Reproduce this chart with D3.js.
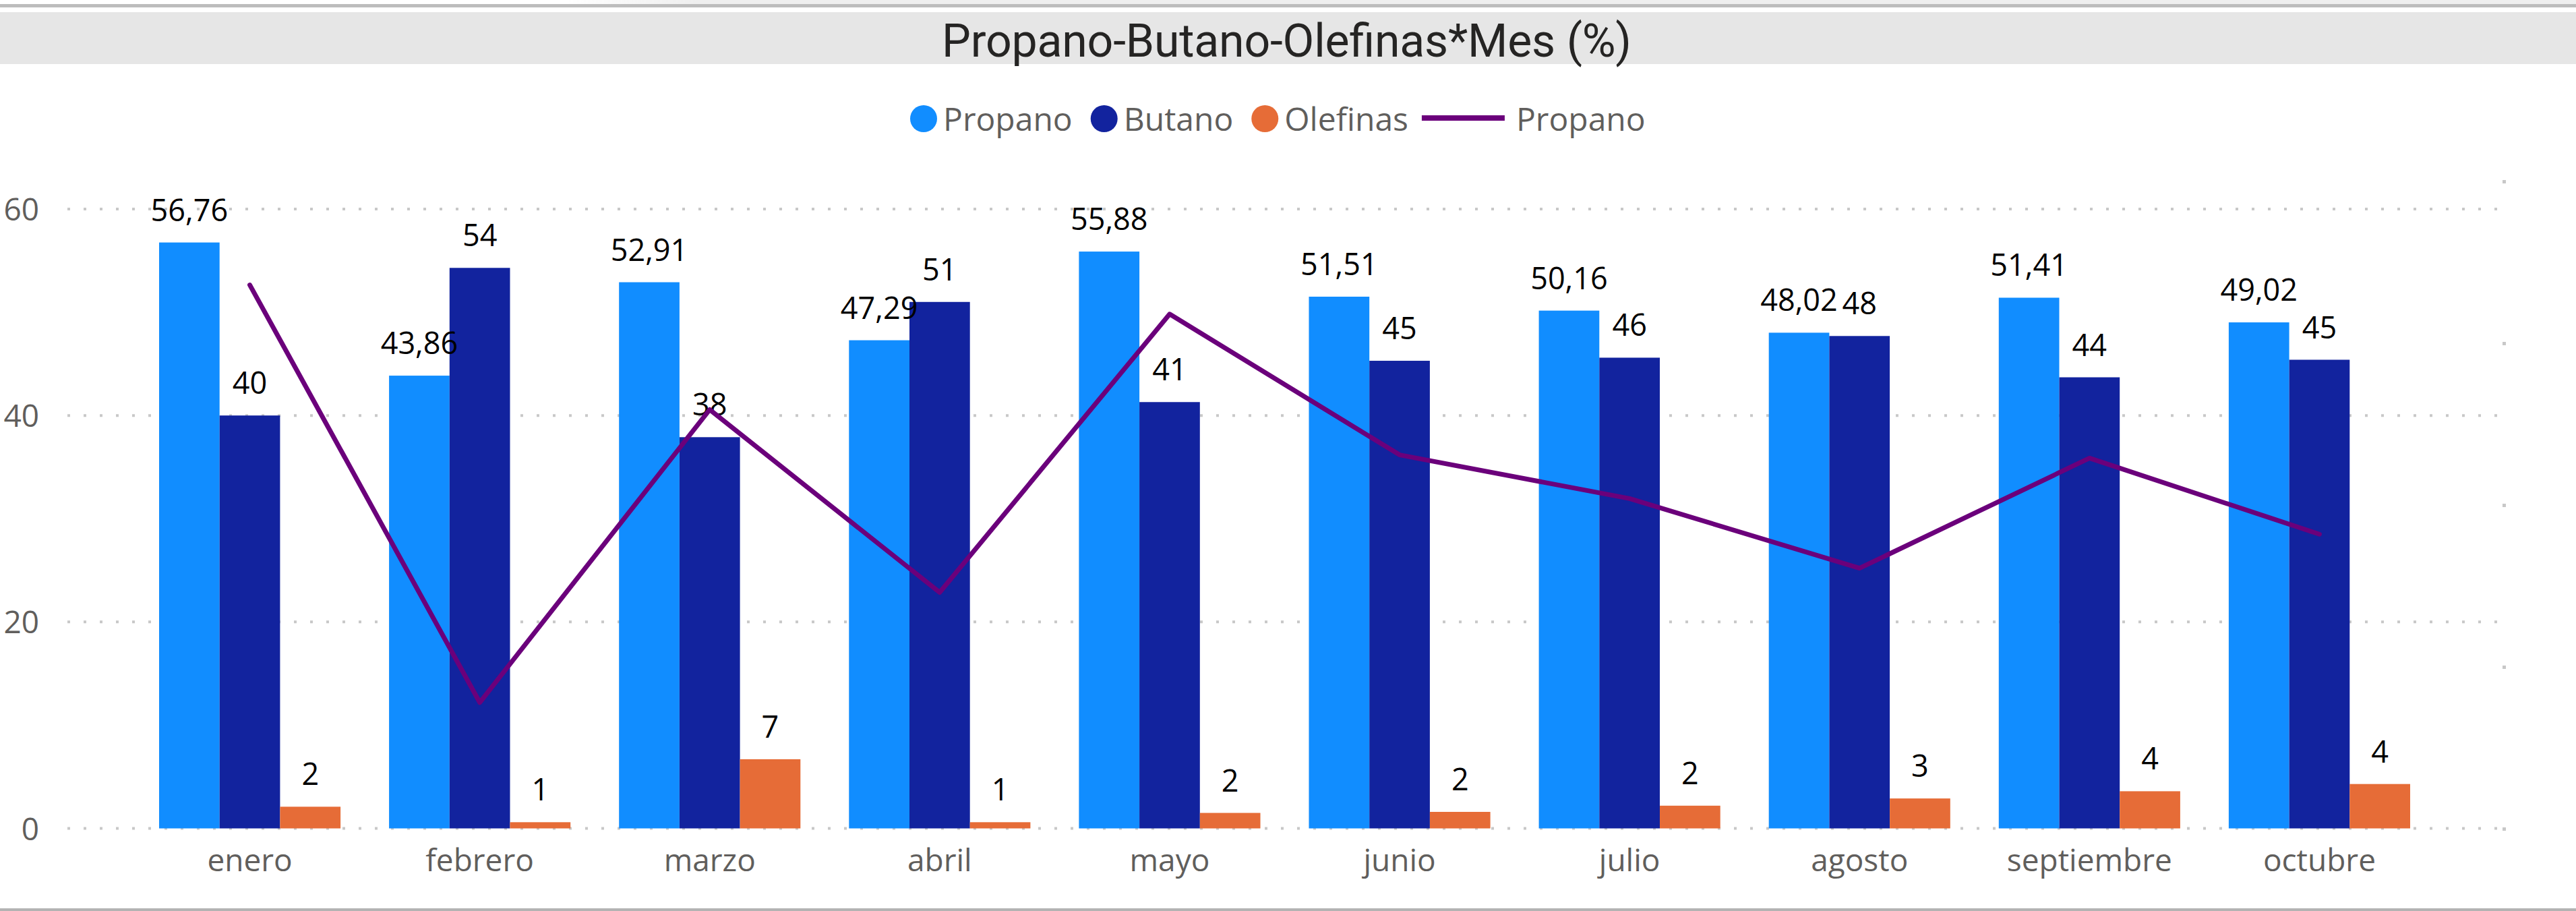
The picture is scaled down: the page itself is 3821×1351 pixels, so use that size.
<!DOCTYPE html>
<html>
<head>
<meta charset="utf-8">
<script src="https://cdn.jsdelivr.net/npm/d3@7"></script>
<style>
  html, body { margin: 0; padding: 0; background: #ffffff; }
  svg { display: block; }
</style>
</head>
<body>
<svg id="chart" width="3821" height="1351"></svg>
<script>
// ---------------- DATA ----------------
const title = "Propano-Butano-Olefinas*Mes (%)";
const months = ["enero", "febrero", "marzo", "abril", "mayo", "junio", "julio", "agosto", "septiembre", "octubre"];
const barSeries = ["Propano", "Butano", "Olefinas"];
const propano = [56.76, 43.86, 52.91, 47.29, 55.88, 51.51, 50.16, 48.02, 51.41, 49.02];
const butano = [40.0, 54.3, 37.9, 51.0, 41.3, 45.3, 45.6, 47.7, 43.7, 45.4];
const olefinas = [2.1, 0.6, 6.7, 0.6, 1.5, 1.6, 2.2, 2.9, 3.6, 4.3];
const lineSeries = "Propano";
const propanoLine = [33.6, 7.8, 25.9, 14.6, 31.8, 23.1, 20.4, 16.1, 22.9, 18.2]; // secondary (unlabelled) axis
const yTicks = [0, 20, 40, 60];
const y2Ticks = [0, 10, 20, 30, 40];

// ---------------- STYLE ----------------
const colors = { Propano: "#118DFF", Butano: "#12239E", Olefinas: "#E66C37" };
const lineColor = "#6B007B";
const font = "'Open Sans', 'Noto Sans', sans-serif";
const textGray = "#605E5C";

const W = 3821, H = 1351;
const svg = d3.select("#chart");

const locale = d3.formatLocale({ decimal: ",", thousands: ".", grouping: [3], currency: ["", "€"] });
const fmt2 = locale.format(".2f");
const fmt0 = locale.format(".0f");
const labelFmt = { Propano: fmt2, Butano: fmt0, Olefinas: fmt0 };

// ---------------- FRAME ----------------
const defs = svg.append("defs");
const grad = defs.append("linearGradient").attr("id", "topgrad").attr("x1", "0").attr("x2", "1");
grad.append("stop").attr("offset", "0.22").attr("stop-color", "#ffffff");
grad.append("stop").attr("offset", "0.27").attr("stop-color", "#efefef");
grad.append("stop").attr("offset", "1").attr("stop-color", "#efefef");
svg.append("rect").attr("x", 0).attr("y", 0).attr("width", W).attr("height", 6).attr("fill", "url(#topgrad)");
svg.append("rect").attr("x", 0).attr("y", 6).attr("width", W).attr("height", 5).attr("fill", "#bdbdbd");
svg.append("rect").attr("x", 0).attr("y", 18).attr("width", W).attr("height", 77).attr("fill", "#e6e6e6");
svg.append("rect").attr("x", 0).attr("y", 1347).attr("width", W).attr("height", 4).attr("fill", "#b3b3b3");

svg.append("text")
  .attr("x", 1908.5).attr("y", 84)
  .attr("text-anchor", "middle")
  .attr("font-family", "Roboto, 'DejaVu Sans', sans-serif")
  .attr("font-size", 68)
  .attr("fill", "#252423")
  .attr("textLength", 1023)
  .attr("lengthAdjust", "spacing")
  .text(title);

// ---------------- SCALES ----------------
const x0 = d3.scaleBand().domain(months).range([200, 3611]).paddingInner(0.211).paddingOuter(0.1055);
const x1 = d3.scaleBand().domain(barSeries).range([0, x0.bandwidth()]);
const y = d3.scaleLinear().domain([0, 60]).range([1228.5, 310]);
const y2 = d3.scaleLinear().domain([0, 40]).range([1229, 269]);

// ---------------- GRID ----------------
svg.append("g").selectAll("line").data(yTicks).join("line")
  .attr("x1", 100).attr("x2", 3706)
  .attr("y1", d => y(d)).attr("y2", d => y(d))
  .attr("stroke", "#c8c8c8").attr("stroke-width", 4)
  .attr("stroke-dasharray", "4 20");

// left axis
const gy = svg.append("g").attr("transform", "translate(58,0)")
  .call(d3.axisLeft(y).tickValues(yTicks).tickSize(0).tickPadding(0).tickFormat(d3.format("d")));
gy.select(".domain").remove();
gy.selectAll("text").attr("font-family", font).attr("font-size", 46).attr("fill", textGray).attr("dy", "0.36em");

// right (secondary) axis – tick marks only
const gy2 = svg.append("g").attr("transform", "translate(3712,0)")
  .call(d3.axisRight(y2).tickValues(y2Ticks).tickSize(5).tickFormat(""));
gy2.select(".domain").remove();
gy2.selectAll("line").attr("stroke", "#c8c8c8").attr("stroke-width", 5);

// bottom axis
const gx = svg.append("g").attr("transform", `translate(0,${y(0)})`)
  .call(d3.axisBottom(x0).tickSize(0).tickPadding(31));
gx.select(".domain").remove();
gx.selectAll("text").attr("font-family", font).attr("font-size", 46).attr("fill", textGray);

// ---------------- BARS ----------------
const seriesValues = { Propano: propano, Butano: butano, Olefinas: olefinas };
const rows = months.map((m, i) => ({ month: m, values: barSeries.map(s => ({ key: s, value: seriesValues[s][i] })) }));

const groups = svg.append("g").selectAll("g").data(rows).join("g")
  .attr("transform", d => `translate(${x0(d.month)},0)`);

groups.selectAll("rect").data(d => d.values).join("rect")
  .attr("x", d => x1(d.key))
  .attr("y", d => y(d.value))
  .attr("width", x1.bandwidth())
  .attr("height", d => y(0) - y(d.value))
  .attr("fill", d => colors[d.key]);

// ---------------- LINE ----------------
const line = d3.line()
  .x((d, i) => x0(months[i]) + x0.bandwidth() / 2)
  .y(d => y2(d));
svg.append("path").datum(propanoLine)
  .attr("d", line)
  .attr("fill", "none")
  .attr("stroke", lineColor)
  .attr("stroke-width", 7)
  .attr("stroke-linejoin", "round")
  .attr("stroke-linecap", "round");

// ---------------- DATA LABELS ----------------
groups.selectAll("text.lbl").data(d => d.values).join("text")
  .attr("class", "lbl")
  .attr("x", d => x1(d.key) + x1.bandwidth() / 2)
  .attr("y", d => y(d.value) - 32)
  .attr("text-anchor", "middle")
  .attr("font-family", font)
  .attr("font-size", 45)
  .attr("fill", "#000000")
  .text(d => labelFmt[d.key](d.value));

// ---------------- LEGEND ----------------
const legend = svg.append("g");
const legendItems = barSeries.map(s => ({ type: "circle", label: s, color: colors[s] }))
  .concat([{ type: "line", label: lineSeries, color: lineColor }]);
let lx = 1350;
const ly = 194;
legendItems.forEach((it, i) => {
  if (it.type === "circle") {
    legend.append("circle").attr("cx", lx + 20).attr("cy", 176).attr("r", 20).attr("fill", it.color);
    lx += 49;
  } else {
    legend.append("rect").attr("x", lx).attr("y", 171).attr("width", 123).attr("height", 8).attr("fill", it.color);
    lx += 140;
  }
  const t = legend.append("text").attr("x", lx).attr("y", ly)
    .attr("font-family", font).attr("font-size", 48).attr("fill", textGray).text(it.label);
  const w = t.node().getComputedTextLength();
  lx += w;
  const next = legendItems[i + 1];
  if (next) lx += next.type === "circle" ? 27 : 20;
});
</script>
</body>
</html>
